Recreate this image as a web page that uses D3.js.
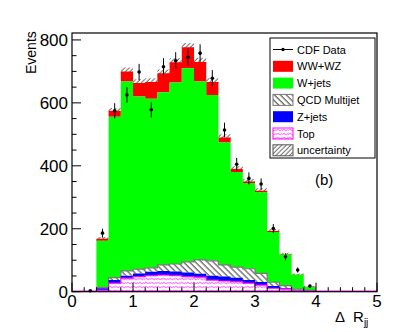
<!DOCTYPE html>
<html>
<head>
<meta charset="utf-8">
<script src="https://cdn.jsdelivr.net/npm/d3@7"></script>
<style>
  body { margin: 0; background: #fff; }
  svg { font-family: "Liberation Sans", Arial, sans-serif; }
  .frame { fill: none; stroke: #000; stroke-width: 1.2px; }
  .tick { stroke: #000; stroke-width: 1px; }
  .ticklabel { font-size: 17px; }
  .err { stroke: #000; stroke-width: 1px; }
</style>
</head>
<body>
<svg id="svg"></svg>
<script>
// histogram bin edges (Delta R_jj)
var binEdges = [0.4, 0.6, 0.8, 1.0, 1.2, 1.4, 1.6, 1.8, 2.0, 2.2, 2.4, 2.6, 2.8, 3.0, 3.2, 3.4, 3.6, 3.8, 4.0];

// stacked backgrounds, bottom to top
var topQuark = [5, 27, 43, 48, 51, 53, 51, 48, 46, 37, 34, 32, 27, 21, 11, 8, 3, 2];
var zJets    = [6, 10, 8, 10, 12, 13, 13, 13, 11, 14, 14, 12, 10, 10, 7, 3, 2, 1];
var qcd      = [3, 8, 15, 14, 13, 19, 24, 34, 44, 47, 37, 34, 36, 27, 12, 8, 3, 1];
var wJets    = [148, 511, 602, 548, 537, 549, 577, 615, 567, 527, 389, 302, 272, 258, 160, 99, 46, 11];
var diboson  = [6, 19, 32, 43, 53, 60, 64, 67, 62, 41, 16, 10, 5, 5, 3, 2, 1, 1];
var uncert   = [6, 9, 12, 12, 12, 12, 13, 13, 13, 12, 10, 9, 8, 8, 6, 4, 3, 2];

// CDF data points
var dataX   = [0.3, 0.5, 0.7, 0.9, 1.1, 1.3, 1.5, 1.7, 1.9, 2.1, 2.3, 2.5, 2.7, 2.9, 3.1, 3.3, 3.5, 3.7, 3.9];
var dataY   = [3, 186, 575, 625, 698, 578, 715, 734, 745, 758, 678, 514, 405, 360, 342, 201, 111, 69, 18];
var dataErr = [2, 14, 24, 25, 26, 24, 27, 27, 27, 28, 26, 23, 20, 19, 18, 14, 11, 8, 4];

var xTicks = [0, 1, 2, 3, 4, 5];
var yTicks = [0, 200, 400, 600, 800];

var legendItems = [
  {label: "CDF Data", type: "data"},
  {label: "WW+WZ", fill: "#ff0000"},
  {label: "W+jets", fill: "#00ff00"},
  {label: "QCD Multijet", fill: "url(#hatchQcd)", stroke: "#777"},
  {label: "Z+jets", fill: "#0000ff"},
  {label: "Top", fill: "url(#hatchTop)", stroke: "#ff00ff"},
  {label: "uncertainty", fill: "url(#hatchUnc)", stroke: "#555"}
];

var W = 399, H = 332;
var margin = {top: 33, right: 22, bottom: 40.3, left: 72};
var width = W - margin.left - margin.right;
var height = H - margin.top - margin.bottom;

var svgRoot = d3.select("#svg").attr("width", W).attr("height", H);

// fill patterns
var defs = svgRoot.append("defs");
var pq = defs.append("pattern").attr("id", "hatchQcd")
  .attr("patternUnits", "userSpaceOnUse").attr("width", 4.2).attr("height", 4.2)
  .attr("patternTransform", "rotate(-45)");
pq.append("rect").attr("width", 4.2).attr("height", 4.2).attr("fill", "#fff");
pq.append("line").attr("x1", 1).attr("x2", 1).attr("y1", 0).attr("y2", 4.2)
  .attr("stroke", "#707070").attr("stroke-width", 1.4);

var pu = defs.append("pattern").attr("id", "hatchUnc")
  .attr("patternUnits", "userSpaceOnUse").attr("width", 3.2).attr("height", 3.2)
  .attr("patternTransform", "rotate(45)");
pu.append("line").attr("x1", 1).attr("x2", 1).attr("y1", 0).attr("y2", 3.2)
  .attr("stroke", "#444").attr("stroke-width", 0.8);

var pt = defs.append("pattern").attr("id", "hatchTop")
  .attr("patternUnits", "userSpaceOnUse").attr("width", 6).attr("height", 4);
pt.append("rect").attr("width", 6).attr("height", 4).attr("fill", "#fff");
pt.append("path").attr("d", "M0,2.5 Q1.5,0.5 3,2 T6,1.5")
  .attr("fill", "none").attr("stroke", "#ff33ff").attr("stroke-width", 0.9);

var svg = svgRoot.append("g")
  .attr("transform", "translate(" + margin.left + "," + margin.top + ")");

var x = d3.scaleLinear().domain([0, 5]).range([0, width]);
var y = d3.scaleLinear().domain([0, 822]).range([height, 0]);

// build stack table
var keys = ["top", "zjets", "qcd", "wjets", "diboson"];
var rows = binEdges.slice(0, -1).map(function(e, i) {
  return {lo: e, hi: binEdges[i + 1], top: topQuark[i], zjets: zJets[i],
          qcd: qcd[i], wjets: wJets[i], diboson: diboson[i], unc: uncert[i]};
});
var series = d3.stack().keys(keys)(rows);

// step points: one per bin plus closing point at the last edge
function stepPts(lowFn, highFn) {
  var pts = rows.map(function(r, i) { return {x: r.lo, y0: lowFn(i), y1: highFn(i)}; });
  var n = rows.length - 1;
  pts.push({x: rows[n].hi, y0: lowFn(n), y1: highFn(n)});
  return pts;
}

var area = d3.area().curve(d3.curveStepAfter)
  .x(function(d) { return x(d.x); })
  .y0(function(d) { return y(d.y0); })
  .y1(function(d) { return y(d.y1); });
var topLine = d3.line().curve(d3.curveStepAfter)
  .x(function(d) { return x(d.x); })
  .y(function(d) { return y(d.y1); });

// uncertainty band around total (drawn under the stack)
var total = series[series.length - 1];
svg.append("path")
  .attr("d", area(stepPts(function(i) { return total[i][1] - rows[i].unc; },
                          function(i) { return total[i][1] + rows[i].unc; })))
  .attr("fill", "url(#hatchUnc)");

var styles = {
  top: {fill: "url(#hatchTop)", line: "#ff00ff"},
  zjets: {fill: "#0000ff"},
  qcd: {fill: "url(#hatchQcd)", line: "#7a7a7a"},
  wjets: {fill: "#00ff00"},
  diboson: {fill: "#ff0000"}
};

series.slice().reverse().forEach(function(s) {
  var pts = stepPts(function(i) { return s[i][0]; }, function(i) { return s[i][1]; });
  svg.append("path").attr("d", area(pts)).attr("fill", styles[s.key].fill);
  if (styles[s.key].line) {
    svg.append("path").attr("d", topLine(pts)).attr("fill", "none")
      .attr("stroke", styles[s.key].line).attr("stroke-width", 1.2);
  }
});

// empty Top histogram line along zero
svg.append("line")
  .attr("x1", x(0)).attr("x2", x(5)).attr("y1", y(0) - 0.5).attr("y2", y(0) - 0.5)
  .attr("stroke", "#ff00ff").attr("stroke-width", 1.2);

// data points
var pts = svg.append("g");
dataX.forEach(function(d, i) {
  pts.append("line").attr("class", "err")
    .attr("x1", x(d)).attr("x2", x(d))
    .attr("y1", y(dataY[i] - dataErr[i])).attr("y2", y(dataY[i] + dataErr[i]));
  pts.append("circle").attr("cx", x(d)).attr("cy", y(dataY[i])).attr("r", 1.8).attr("fill", "#000");
});

// frame
svg.append("rect").attr("class", "frame").attr("width", width).attr("height", height);

// y ticks
d3.range(0, 822, 50).forEach(function(v) {
  var major = v % 200 === 0;
  svg.append("line").attr("class", "tick")
    .attr("x1", 0).attr("x2", major ? 9 : 4.5)
    .attr("y1", y(v)).attr("y2", y(v));
});
svg.selectAll(".ylab").data(yTicks).enter().append("text")
  .attr("class", "ticklabel").attr("x", -4).attr("y", function(d) { return y(d) + 6; })
  .attr("text-anchor", "end").text(function(d) { return d; });

// x ticks
d3.range(0, 5.001, 0.2).forEach(function(v) {
  var major = Math.abs(v - Math.round(v)) < 1e-6;
  svg.append("line").attr("class", "tick")
    .attr("x1", x(v)).attr("x2", x(v))
    .attr("y1", height).attr("y2", height - (major ? 9 : 4.5));
});
svg.selectAll(".xlab").data(xTicks).enter().append("text")
  .attr("class", "ticklabel").attr("x", function(d) { return x(d); }).attr("y", height + 15)
  .attr("text-anchor", "middle").text(function(d) { return d; });

// axis titles
svgRoot.append("text")
  .attr("transform", "translate(36,74) rotate(-90)")
  .attr("text-anchor", "start").style("font-size", "14px").text("Events");

var xt = svgRoot.append("text").attr("x", 335).attr("y", 322).style("font-size", "15px");
xt.append("tspan").text("\u0394");
xt.append("tspan").attr("dx", 8).text("R");
xt.append("tspan").attr("dy", 4).style("font-size", "10px").text("jj");

svgRoot.append("text").attr("x", 315).attr("y", 185).style("font-size", "15px").text("(b)");

// legend
var lg = svgRoot.append("g");
lg.append("rect").attr("x", 270).attr("y", 38).attr("width", 105).attr("height", 120)
  .attr("fill", "#fff").attr("stroke", "#000").attr("stroke-width", 1);
legendItems.forEach(function(d, i) {
  var cy = 49.5 + i * 16.8;
  if (d.type === "data") {
    lg.append("line").attr("x1", 273).attr("x2", 293).attr("y1", cy).attr("y2", cy)
      .attr("stroke", "#000").attr("stroke-width", 1);
    lg.append("circle").attr("cx", 283).attr("cy", cy).attr("r", 1.7).attr("fill", "#000");
  } else {
    lg.append("rect").attr("x", 273).attr("y", cy - 5.5).attr("width", 20).attr("height", 11)
      .attr("fill", d.fill).attr("stroke", d.stroke || "none").attr("stroke-width", 1);
  }
  lg.append("text").attr("x", 297).attr("y", cy + 4).style("font-size", "11px").text(d.label);
});
</script>
</body>
</html>
